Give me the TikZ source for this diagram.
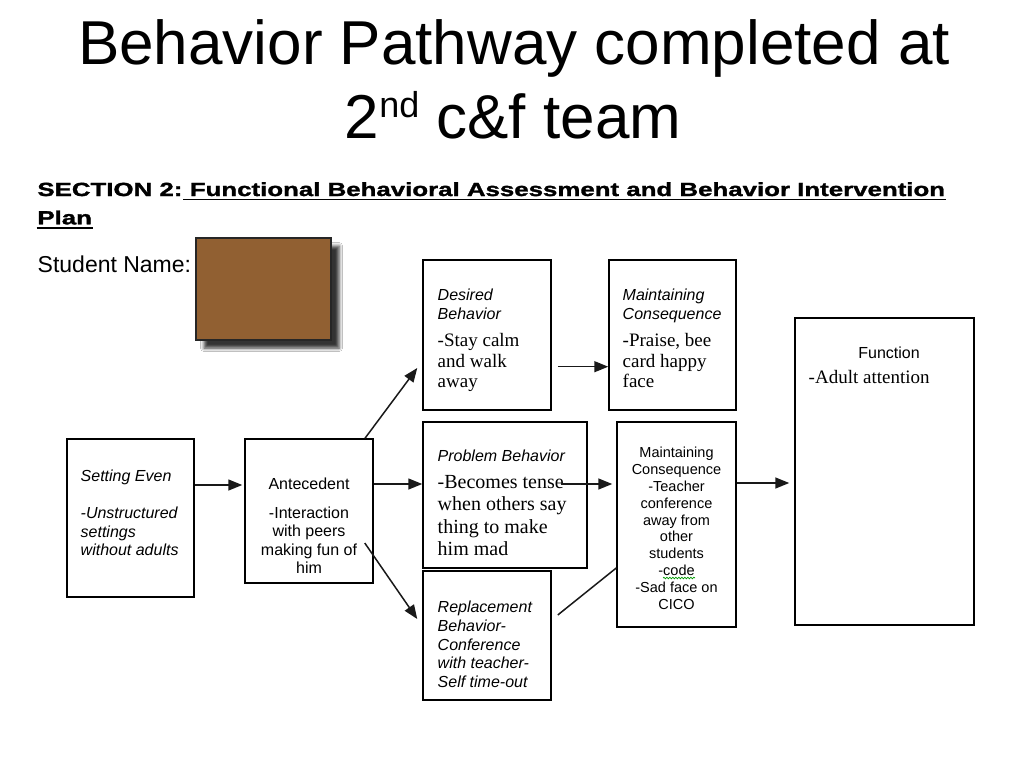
\documentclass[tikz,border=0pt]{standalone}
\usepackage{fontspec}
\setmainfont{Liberation Serif}
\setsansfont{Liberation Sans}
\newfontfamily\sectfont[FakeStretch=1.36, BoldFeatures={FakeBold=1.6}]{Liberation Sans}
\usetikzlibrary{arrows.meta,shadows.blur,decorations.pathmorphing}
\definecolor{namebrown}{RGB}{145,96,50}
\definecolor{lineink}{RGB}{25,25,25}

\begin{document}
\begin{tikzpicture}[x=1pt, y=-1pt, >={Triangle[length=14pt,width=11pt]}, line width=1.4pt]
    \tikzstyle{block} = [rectangle, draw, line width=1.5pt, inner sep=0pt]
    \tikzstyle{headtxt} = [font=\sffamily\itshape\fontsize{16}{19}\selectfont, align=left, inner sep=0pt, anchor=north west]
    \tikzstyle{bodytxt} = [font=\rmfamily\fontsize{19}{20.5}\selectfont, align=left, inner sep=0pt, anchor=north west]
    \tikzstyle{plaintxt} = [font=\sffamily\fontsize{16}{18.3}\selectfont, align=center, inner sep=0pt, anchor=north]
    \tikzstyle{secttxt} = [font=\sectfont\bfseries\fontsize{19}{22}\selectfont, inner sep=0pt, anchor=base west]
    \tikzstyle{link} = [draw=lineink, line width=1.5pt]

    \fill [white] (0,0) rectangle (1024,768);
    \useasboundingbox (0,0) rectangle (1024,768);

    \node [font=\sffamily\fontsize{62}{70}\selectfont, inner sep=0pt, anchor=base] (title1) at (514,64) {Behavior Pathway completed at};
    \node [font=\sffamily\fontsize{62}{70}\selectfont, inner sep=0pt, anchor=base] (title2) at (513,138) {2\raisebox{21pt}{\fontsize{36}{40}\selectfont nd} c\&f team};

    \node [secttxt] (sectlbl) at (36.7,196) {SECTION 2:};
    \node [secttxt] (sectname) at ([xshift=6pt]sectlbl.base east) {Functional Behavioral Assessment and Behavior Intervention};
    \node [secttxt] (sectplan) at (36.7,224.3) {Plan};
    \draw [line width=1.8pt] ([yshift=-3.4pt]sectlbl.base east) -- ([yshift=-3.4pt]sectname.base east);
    \draw [line width=1.8pt] ([yshift=-3.4pt]sectplan.base west) -- ([yshift=-3.4pt]sectplan.base east);

    \node [font=\sffamily\fontsize{23}{26}\selectfont, inner sep=0pt, anchor=base west] (studentlbl) at (37,272) {Student Name:};
    \node [block, fill=namebrown, draw=black!85, minimum width=135, minimum height=102,
           blur shadow={shadow xshift=8pt, shadow yshift=-8pt, shadow blur radius=3.5pt, shadow opacity=80}] (namebox) at (263.5,289) {};

    % boxes
    \node [block, minimum width=127, minimum height=158] (setting) at (130.5,518) {};
    \node [block, minimum width=128, minimum height=144] (ante) at (309,511) {};
    \node [block, minimum width=128, minimum height=150] (desired) at (487,335) {};
    \node [block, minimum width=127, minimum height=150] (mctop) at (672.5,335) {};
    \node [block, minimum width=164, minimum height=146] (problem) at (505,495) {};
    \node [block, minimum width=128, minimum height=129] (replace) at (487,635.5) {};
    \node [block, minimum width=119, minimum height=205] (mcmid) at (676.5,524.5) {};
    \node [block, minimum width=179, minimum height=307] (func) at (884.5,471.5) {};

    % texts
    \node [headtxt, font=\sffamily\itshape\fontsize{16}{18.5}\selectfont] (settingtxt) at (80,469.3) {Setting Even\\[18.5pt]-Unstructured\\settings\\without adults};
    \node [plaintxt] (antetxt) at (309,477.5) {Antecedent\\[10.3pt]-Interaction\\with peers\\making fun of\\him};
    \node [headtxt] (desiredhd) at (437,288.5) {Desired\\Behavior};
    \node [bodytxt] (desiredbd) at (437,333) {-Stay calm\\and walk\\away};
    \node [headtxt] (mctophd) at (622,288.5) {Maintaining\\Consequence};
    \node [bodytxt] (mctopbd) at (622,333) {-Praise, bee\\card happy\\face};
    \node [headtxt, anchor=base west] (problemhd) at (437,461) {Problem Behavior};
    \node [bodytxt, font=\rmfamily\fontsize{20}{22.4}\selectfont] (problembd) at (437,474.5) {-Becomes tense\\when others say\\thing to make\\him mad};
    \node [headtxt, font=\sffamily\itshape\fontsize{16}{18.7}\selectfont] (replacetxt) at (437,600.5) {Replacement\\Behavior-\\Conference\\with teacher-\\Self time-out};
    \node [plaintxt, font=\sffamily\fontsize{14.5}{16.8}\selectfont] (mcmidtxt) at (676.5,446.6) {Maintaining\\Consequence\\-Teacher\\conference\\away from\\other\\students\\-code\\-Sad face on\\CICO};
    \node [font=\sffamily\fontsize{16}{18}\selectfont, inner sep=0pt, anchor=base] (funchd) at (889,358) {Function};
    \node [font=\rmfamily\fontsize{19}{20}\selectfont, inner sep=0pt, anchor=base west] (funcbd) at (808,383) {-Adult attention};

    \draw [green!60!black, line width=0.7pt, decorate, decoration={snake, amplitude=0.8pt, segment length=3pt}] (663,578) -- (695,578);

    % arrows
    \draw [link, ->, shorten >=2pt] ([yshift=33pt]setting.east) -- ([yshift=26pt]ante.west);
    \draw [link, ->] ([xshift=56pt]ante.north) -- ([xshift=-5pt, yshift=-33pt]desired.west);
    \draw [link, ->] ([yshift=27pt]ante.east) -- ([yshift=11pt]problem.west);
    \draw [link, ->] ([xshift=-9pt, yshift=-32pt]ante.east) -- ([xshift=-5pt, yshift=16.5pt]replace.west);
    \draw [link, ->] ([xshift=6pt, yshift=-31.7pt]desired.east) -- ([yshift=-31.7pt]mctop.west);
    \draw [link, ->] ([xshift=-27pt, yshift=11pt]problem.east) -- ([xshift=-4pt, yshift=40.5pt]mcmid.west);
    \draw [link] ([xshift=6pt, yshift=20.5pt]replace.east) -- ([yshift=-43.5pt]mcmid.west);
    \draw [link, ->] ([yshift=41.5pt]mcmid.east) -- ([xshift=-5pt, yshift=-11.5pt]func.west);
\end{tikzpicture}
\end{document}
